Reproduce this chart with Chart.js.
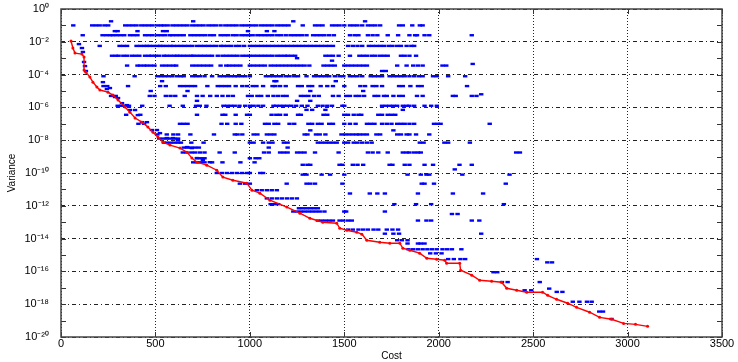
<!DOCTYPE html>
<html>
<head>
<meta charset="utf-8">
<script src="https://cdn.jsdelivr.net/npm/chart.js"></script>
<style>
  html, body { margin: 0; padding: 0; background: #fff; }
  #wrap { width: 738px; height: 362px; }
</style>
</head>
<body>
<div id="wrap"><canvas id="chart" width="738" height="362"></canvas></div>
<script>
// axis ticks: cost along x, powers of ten (exponents) along y
const costTicks = [0, 500, 1000, 1500, 2000, 2500, 3000, 3500];
const yTickExps = [0, -1, -2, -3, -4, -5, -6, -7, -8, -9, -10, -11, -12, -13, -14, -15, -16, -17, -18, -19, -20];
const yLabelExps = [0, -2, -4, -6, -8, -10, -12, -14, -16, -18, -20];
const yLabels = ['10⁰', '10⁻²', '10⁻⁴', '10⁻⁶', '10⁻⁸', '10⁻¹⁰', '10⁻¹²', '10⁻¹⁴', '10⁻¹⁶', '10⁻¹⁸', '10⁻²⁰'];

// red pareto front: cost and log10(variance)
const frontCost = [53, 63, 74, 111, 122, 122, 132, 153, 169, 190, 206, 249, 275, 302, 339, 365, 392, 429, 460, 487,
  513, 540, 577, 630, 667, 693, 720, 772, 825, 857, 910, 984, 1011, 1053, 1106, 1196, 1265, 1318, 1386, 1460,
  1476, 1513, 1566, 1593, 1619, 1688, 1741, 1794, 1810, 1847, 1899, 1937, 1989, 2032, 2042, 2111, 2116, 2175,
  2217, 2280, 2333, 2360, 2413, 2466, 2550, 2577, 2624, 2683, 2730, 2799, 2852, 2915, 2979, 3042, 3106];
const frontExp = [-1.95, -2.38, -2.69, -2.75, -2.93, -3.72, -3.85, -4.15, -4.46, -4.76, -4.94, -5.07, -5.25, -5.55,
  -5.98, -6.29, -6.65, -6.9, -7.2, -7.51, -7.81, -8.12, -8.3, -8.48, -8.73, -9.09, -9.34, -9.52, -9.83, -10.25,
  -10.44, -10.62, -11.05, -11.23, -11.66, -12.08, -12.45, -12.76, -13.0, -13.06, -13.37, -13.49, -13.61, -13.73,
  -14.1, -14.22, -14.28, -14.28, -14.59, -14.71, -14.89, -15.2, -15.26, -15.32, -15.5, -15.5, -15.93, -16.23,
  -16.54, -16.6, -16.66, -17.03, -17.15, -17.27, -17.27, -17.46, -17.7, -17.94, -18.19, -18.49, -18.8, -18.92,
  -19.17, -19.23, -19.35];

// blue candidates, grouped by the row (log10 variance) they sit on
const rowExp = [-0.75, -1.0, -1.35, -1.6, -2.25, -2.85, -3.0, -3.15, -3.35, -3.45, -3.78, -4.1, -4.4, -4.7, -5.0,
  -5.2, -5.3, -5.6, -5.9, -6.15, -6.45, -7.0, -7.4, -7.65, -7.9, -8.15, -8.45, -8.75, -9.1, -9.35, -9.5, -9.78,
  -10.0, -10.1, -10.65, -11.05, -11.25, -11.55, -11.9, -12.15, -12.35, -12.5, -12.9, -13.45, -13.7, -14.1, -14.3,
  -14.65, -14.9, -15.25, -15.45, -16.05, -16.65, -17.05, -17.15, -17.25, -17.85, -18.45, -18.9];
const rowCost = [
  [265, 700, 1230, 1610],
  [65, 165, 185, 205, 230, 250, 340, 360, 380, 400, 425, 445, 465, 485, 510, 530, 545, 565, 590, 610, 630, 650, 670,
    695, 715, 735, 755, 780, 800, 820, 845, 870, 890, 910, 930, 955, 975, 995, 1015, 1035, 1060, 1080, 1100, 1120,
    1145, 1165, 1185, 1205, 1280, 1345, 1365, 1385, 1435, 1455, 1475, 1500, 1530, 1550, 1570, 1595, 1625, 1645,
    1665, 1690, 1790, 1810, 1860, 1900, 1915],
  [285, 300, 405, 540, 560, 990, 1090, 1130],
  [115, 220, 240, 260, 275, 295, 315, 335, 365, 385, 405, 445, 465, 485, 510, 530, 550, 575, 590, 610, 630, 650,
    685, 705, 725, 745, 765, 790, 810, 845, 865, 885, 910, 930, 955, 975, 995, 1015, 1040, 1060, 1080, 1100, 1120,
    1145, 1165, 1190, 1215, 1235, 1255, 1275, 1300, 1335, 1355, 1375, 1395, 1420, 1445, 1530, 1555, 1575, 1625,
    1650, 1675, 1730, 1785, 1845, 1875, 1885, 1925, 1950, 2175],
  [205, 310, 330, 350, 400, 420, 440, 455, 470, 490, 510, 525, 540, 560, 580, 595, 615, 635, 655, 675, 695, 720,
    740, 760, 780, 800, 820, 845, 860, 880, 900, 925, 945, 970, 1000, 1020, 1040, 1060, 1080, 1100, 1120, 1140,
    1160, 1180, 1200, 1220, 1240, 1260, 1280, 1300, 1320, 1340, 1360, 1380, 1400, 1420, 1440, 1520, 1545, 1570,
    1595, 1630, 1650, 1670, 1690, 1710, 1735, 1755, 1780, 1800, 1830, 1855, 1870],
  [270, 290, 305, 330, 350, 375, 395, 415, 445, 465, 480, 500, 520, 545, 560, 580, 600, 615, 630, 650, 670, 690,
    700, 720, 740, 760, 780, 800, 830, 855, 875, 895, 915, 935, 960, 980, 1000, 1020, 1040, 1060, 1080, 1100, 1120,
    1145, 1165, 1185, 1200, 1220, 1240, 1400, 1420, 1440, 1470, 1530, 1580, 1600, 1620, 1645, 1665, 1690, 1710,
    1730, 1800, 1820, 1845, 1880],
  [1250],
  [1435],
  [2180],
  [350, 405, 420, 440, 455, 475, 495, 535, 555, 575, 595, 610, 695, 715, 735, 755, 775, 795, 845, 875, 890, 910,
    930, 950, 1000, 1020, 1040, 1060, 1080, 1110, 1130, 1150, 1170, 1190, 1210, 1230, 1250, 1270, 1290, 1315, 1390,
    1410, 1430, 1450, 1500, 1520, 1540, 1560, 1580, 1600, 1620, 1780, 1830, 1865, 1890, 1915, 2020, 2040],
  [1700, 1720],
  [225, 390, 510, 530, 550, 570, 590, 615, 635, 650, 695, 715, 735, 760, 800, 840, 860, 880, 900, 920, 935, 955,
    975, 1000, 1085, 1105, 1125, 1145, 1165, 1190, 1210, 1235, 1255, 1300, 1340, 1360, 1380, 1400, 1420, 1450, 1475,
    1495, 1530, 1550, 1570, 1595, 1640, 1660, 1680, 1700, 1740, 1760, 1780, 1800, 1820, 1845, 1870, 1895, 1915,
    1970, 1990, 2050, 2140],
  [535, 1130, 1140, 1455],
  [225, 245, 355, 525, 555, 630, 650, 670, 690, 710, 775, 830, 850, 870, 890, 925, 960, 985, 1015, 1035, 1070,
    1120, 1135, 1160, 1190, 1255, 1275, 1310, 1330, 1375, 1410, 1440, 1500, 1585, 1610, 1650, 1670, 1700, 1790,
    1810, 1850, 1890, 1910, 2150],
  [475, 670, 1320, 1600],
  [2225],
  [265, 290, 470, 495, 555, 580, 605, 655, 720, 750, 790, 825, 855, 885, 910, 990, 1010, 1040, 1060, 1095, 1125,
    1150, 1175, 1195, 1270, 1290, 1310, 1340, 1365, 1440, 1470, 1510, 1530, 1560, 1580, 1605, 1660, 1680, 1710,
    1725, 1760, 1790, 1810, 1885, 1915, 2075, 2090, 2175, 2200],
  [720, 1250, 1320],
  [300, 320, 340, 360, 430, 575, 645, 715, 735, 770, 860, 880, 900, 920, 945, 975, 1000, 1020, 1045, 1070, 1125,
    1140, 1160, 1180, 1200, 1220, 1245, 1275, 1305, 1360, 1385, 1410, 1435, 1490, 1500, 1700, 1720, 1740, 1760,
    1780, 1810, 1830, 1845, 1870, 1925, 1960, 1990],
  [1300, 1330, 1400, 1810],
  [345, 420, 720, 855, 870, 925, 985, 1000, 1115, 1140, 1160, 1190, 1255, 1270, 1390, 1410, 1500, 1520, 1550, 1575,
    1590, 1680, 1700, 1730, 1750, 1770],
  [410, 440, 630, 650, 670, 850, 880, 925, 955, 1080, 1100, 1130, 1150, 1210, 1235, 1310, 1330, 1360, 1380, 1420,
    1440, 1500, 1530, 1560, 1620, 1640, 1660, 1700, 1725, 1750, 1780, 1800, 1820, 1845, 1870, 1975, 1995, 2010, 2270],
  [1320, 1760],
  [510, 560, 595, 620, 685, 810, 920, 935, 960, 1020, 1040, 1090, 1110, 1130, 1290, 1305, 1350, 1370, 1400, 1485,
    1505, 1525, 1545, 1565, 1580, 1600, 1620, 1670, 1690, 1780, 1800, 1830, 1845, 1880, 1950],
  [520, 540, 560, 580, 600, 620],
  [545, 560, 580, 600, 620, 635, 690, 755, 1000, 1020, 1070, 1100, 1120, 1180, 1200, 1360, 1380, 1400, 1420, 1440,
    1460, 1500, 1520, 1550, 1570, 1595, 1620, 1645, 1900, 1920, 2030, 2050, 2165],
  [650, 670, 690, 710, 730, 1100, 1200],
  [645, 665, 690, 710, 735, 760, 840, 920, 1075, 1100, 1160, 1180, 1200, 1250, 1270, 1290, 1345, 1470, 1625, 1650,
    1680, 1730, 1810, 1830, 1845, 1870, 1890, 1905, 2410, 2430],
  [720, 740, 760, 1000, 1030, 1050],
  [700, 720, 740, 760, 800, 855, 950, 1025],
  [1280, 1305, 1320, 1475, 1490, 1545, 1570, 1600, 1740, 1755, 1820, 1845, 1925, 1970, 2110, 2175],
  [2085],
  [825, 852, 878, 905, 931, 958, 984, 1000, 1055, 1070],
  [1280, 1300, 1380, 1425, 1500, 1835, 1905, 1935, 1950, 2125, 2375],
  [947, 974, 1000, 1195, 1300, 1320, 1345, 1490, 1910, 1925, 1975, 2355],
  [1037, 1063, 1090, 1116, 1143],
  [1530, 1635, 1675, 1715, 1890, 2075, 2235],
  [1090, 1116, 1143, 1169, 1196, 1222, 1249],
  [1110, 1130, 1150, 1765, 1880, 1960, 2345],
  [1260, 1280, 1300, 1320, 1340, 1360],
  [1230, 1250, 1270, 1290, 1310, 1330, 1350, 1370, 1395, 1500, 1510, 1715],
  [2070, 2100],
  [1360, 1380, 1400, 1420, 1440, 1475, 1495, 1520, 1540, 1890, 1935, 1960, 2175, 2215],
  [1520, 1545, 1575, 1600, 1625, 1655, 1680, 1725, 1755, 1785],
  [1715, 1760, 1790, 2225],
  [1780, 1805, 1835],
  [1835, 1890, 1905, 1925],
  [1840, 1865, 1890, 1915, 1940, 1965, 1990, 2020, 2045, 2070, 2120],
  [1955, 1985, 2015],
  [2050, 2080, 2115, 2140, 2520],
  [2575, 2600],
  [2290, 2310],
  [2335, 2365, 2535],
  [2585],
  [2455, 2490],
  [2625, 2655],
  [2710, 2745, 2785, 2810],
  [2850, 2870],
  [2915],
];

// blue points hugging the front
const nearCost = [95, 111, 116, 122, 127, 132, 222, 243, 259, 286, 302, 323, 349, 365, 392, 407, 429, 455, 481, 508,
  524, 561, 593, 619, 667, 693, 720, 751, 788];
const nearExp = [-2.14, -2.38, -2.62, -3.23, -3.48, -3.78, -4.46, -4.88, -4.82, -5.37, -5.43, -5.74, -5.86, -6.16,
  -6.16, -6.47, -6.9, -6.9, -7.38, -7.38, -7.57, -7.87, -7.87, -8.0, -8.42, -8.48, -9.09, -9.22, -9.34];

const bluePoints = [];
rowExp.forEach((e, i) => {
  rowCost[i].forEach((c) => bluePoints.push({ x: c, y: 10 ** e }));
});
nearCost.forEach((c, i) => bluePoints.push({ x: c, y: 10 ** nearExp[i] }));
const frontPoints = frontCost.map((c, i) => ({ x: c, y: 10 ** frontExp[i] }));

const expOf = (v) => Math.round(Math.log10(v));

// box round the plot with matlab-style inward ticks
const frameTicks = {
  id: 'frameTicks',
  afterDatasetsDraw(chart) {
    const { ctx, chartArea: a, scales: { x, y } } = chart;
    ctx.save();
    ctx.strokeStyle = '#333';
    ctx.lineWidth = 1;
    ctx.beginPath();
    yTickExps.forEach((e) => {
      const py = Math.round(y.getPixelForValue(10 ** e)) + 0.5;
      ctx.moveTo(a.left, py);
      ctx.lineTo(a.left + 5, py);
      ctx.moveTo(a.right, py);
      ctx.lineTo(a.right - 5, py);
    });
    costTicks.forEach((c) => {
      const px = Math.round(x.getPixelForValue(c)) + 0.5;
      ctx.moveTo(px, a.bottom);
      ctx.lineTo(px, a.bottom - 5);
      ctx.moveTo(px, a.top);
      ctx.lineTo(px, a.top + 5);
    });
    ctx.stroke();
    ctx.lineWidth = 1.5;
    ctx.strokeStyle = '#444';
    ctx.strokeRect(a.left, a.top, a.right - a.left, a.bottom - a.top);
    ctx.restore();
  },
};

const font = { family: '"Liberation Sans", Arial, sans-serif', size: 11 };

new Chart(document.getElementById('chart'), {
  type: 'scatter',
  data: {
    datasets: [{
      label: 'Front',
      data: frontPoints,
      showLine: true,
      borderColor: '#ff0000',
      backgroundColor: '#ff0000',
      borderWidth: 1.4,
      pointRadius: 1.5,
      pointBorderWidth: 0,
      order: 0,
    }, {
      label: 'Candidates',
      data: bluePoints,
      borderColor: '#0000ff',
      backgroundColor: '#0000ff',
      pointStyle: 'line',
      pointRadius: 2.2,
      pointBorderWidth: 2.4,
      order: 1,
    }],
  },
  options: {
    responsive: false,
    animation: false,
    events: [],
    layout: { padding: { left: 0, right: 16, top: 9, bottom: 0 } },
    plugins: {
      legend: { display: false },
      tooltip: { enabled: false },
    },
    scales: {
      x: {
        type: 'linear',
        min: 0,
        max: 3500,
        afterFit: (s) => { s.height = 25; },
        afterBuildTicks: (s) => { s.ticks = costTicks.map((v) => ({ value: v })); },
        ticks: {
          autoSkip: false,
          maxRotation: 0,
          padding: 0,
          color: '#000',
          font,
          callback: (v) => String(v),
        },
        grid: { color: '#222', lineWidth: 1, drawTicks: false },
        border: { display: false, dash: [1, 2] },
        title: {
          display: true,
          text: 'Cost',
          color: '#000',
          font: { family: font.family, size: 10 },
          padding: { top: 0, bottom: 0 },
        },
      },
      y: {
        type: 'logarithmic',
        min: 1e-20,
        max: 1,
        afterFit: (s) => {
          s.width = 61;
          s.paddingTop = 0;
          s.paddingBottom = 0;
        },
        afterBuildTicks: (s) => { s.ticks = yTickExps.map((e) => ({ value: 10 ** e })); },
        ticks: {
          autoSkip: false,
          padding: 12,
          color: '#000',
          font,
          callback: (v) => {
            const i = yLabelExps.indexOf(expOf(v));
            return i >= 0 ? yLabels[i] : '';
          },
        },
        grid: {
          lineWidth: 1,
          drawTicks: false,
          color: (c) => (expOf(c.tick.value) % 2 === 0 ? '#222' : 'rgba(0,0,0,0)'),
        },
        border: { display: false, dash: [4, 3, 1, 3] },
        title: {
          display: true,
          text: 'Variance',
          color: '#000',
          font: { family: font.family, size: 10 },
          padding: { top: 6, bottom: 0 },
        },
      },
    },
  },
  plugins: [frameTicks],
});
</script>
</body>
</html>
